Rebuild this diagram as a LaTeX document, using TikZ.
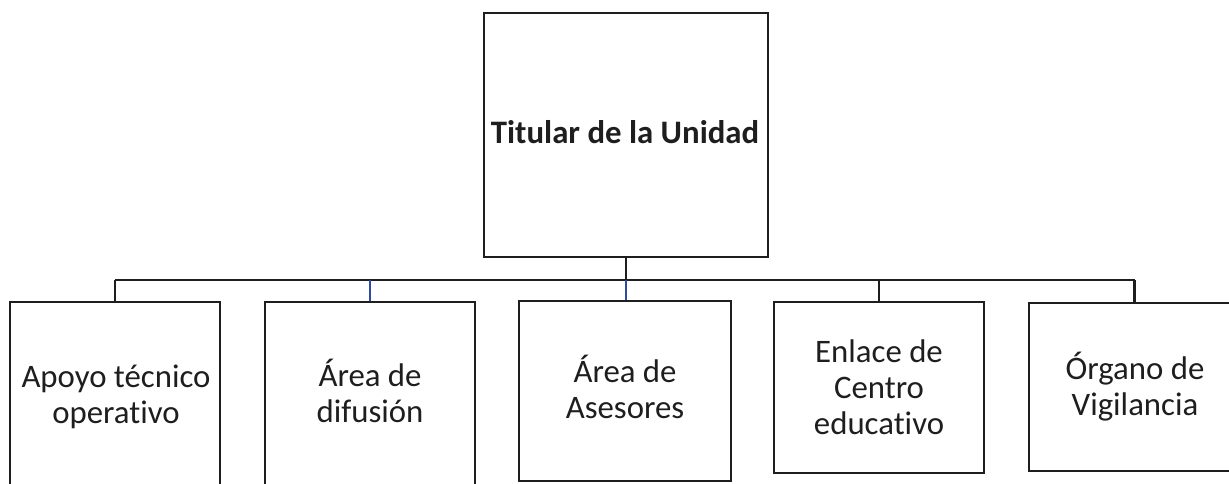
\documentclass[tikz,border=0pt]{standalone}
\usepackage{fontspec}
\setmainfont{Carlito}[Ligatures=NoCommon]
\definecolor{ink}{RGB}{30,30,30}
\definecolor{bluelink}{RGB}{45,75,165}
\tikzset{
  box/.style={draw=ink, line width=2.6pt, rectangle, inner sep=0pt},
  conn/.style={draw=ink, line width=2.2pt},
  blueconn/.style={draw=bluelink, line width=1.6pt},
  lbl/.style={text=ink, font=\fontsize{32.8}{36}\selectfont, align=center, inner sep=0pt, anchor=base},
  title/.style={text=ink, font=\fontsize{32.8}{36}\selectfont\bfseries, inner sep=0pt, anchor=base}
}
\begin{document}
\begin{tikzpicture}[x=1pt,y=-1pt]
\useasboundingbox (0,0) rectangle (1229,484);
\begin{scope}
\clip (0,0) rectangle (1229,484);
% boxes
\node[box, minimum width=284pt, minimum height=244pt] (top) at (626,135) {};
\node[box, minimum width=210pt, minimum height=192pt] (b1) at (115,398) {};
\node[box, minimum width=210pt, minimum height=192pt] (b2) at (370,398) {};
\node[box, minimum width=212pt, minimum height=180pt] (b3) at (625,391) {};
\node[box, minimum width=210pt, minimum height=171pt] (b4) at (879,387.5) {};
\node[box, minimum width=211pt, minimum height=168pt] (b5) at (1134.5,387) {};
% texts (base = baseline of the last line)
\node[title] (ttop) at (625,144) {Titular de la Unidad};
\node[lbl] (t1) at (116,423) {Apoyo técnico\\operativo};
\node[lbl] (t2) at (370,422) {Área de\\difusión};
\node[lbl] (t3) at (625,418) {Área de\\Asesores};
\node[lbl] (t4) at (879,434) {Enlace de\\Centro\\educativo};
\node[lbl] (t5) at (1135,415) {Órgano de\\Vigilancia};
% connectors
\coordinate (bus) at (0,280);
\draw[conn] (top.south) -- (top.south |- bus);
\draw[conn] (b1.north |- bus) -- (b5.north |- bus);
\draw[conn] (b1.north |- bus) -- (b1.north);
\draw[blueconn] (b2.north |- bus) -- (b2.north);
\draw[blueconn] (top.south |- bus) -- (top.south |- b3.north);
\draw[conn] (b4.north |- bus) -- (b4.north);
\draw[conn] (b5.north |- bus) -- (b5.north);
\end{scope}
\end{tikzpicture}
\end{document}
